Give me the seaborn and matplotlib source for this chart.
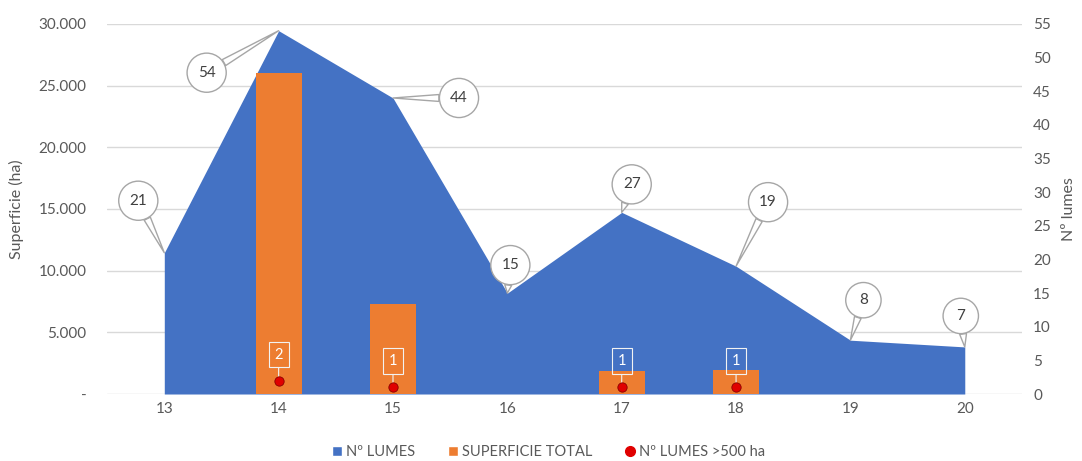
import numpy as np
import matplotlib
matplotlib.use("Agg")
import matplotlib.pyplot as plt
import seaborn as sns
from matplotlib.patches import Patch
from matplotlib.lines import Line2D
from matplotlib.ticker import FuncFormatter

# datos
anos = ["13", "14", "15", "16", "17", "18", "19", "20"]
n_lumes = [21, 54, 44, 15, 27, 19, 8, 7]
superficie = [0, 26000, 7300, 0, 1850, 1950, 0, 0]
lumes_500 = [0, 2, 1, 0, 1, 1, 0, 0]

azul = "#4472C4"
laranxa = "#ED7D31"
vermello = "#E00000"
gris = "#595959"

sns.set_style("white")
plt.rcParams["font.family"] = ["Lato", "DejaVu Sans"]

fig, ax = plt.subplots(figsize=(10.82, 4.61), dpi=100)
fig.subplots_adjust(left=0.099, right=0.9445, bottom=0.1453, top=0.948)
pos = np.arange(len(anos))

# eixo dereito: area de numero de lumes
ax2 = ax.twinx()
ax2.fill_between(pos, n_lumes, color=azul, lw=0)

# barras de superficie (escala esquerda)
ax3 = ax.twinx()
sns.barplot(x=anos, y=superficie, order=anos, color=laranxa, width=0.4,
            saturation=1, linewidth=0, ax=ax3)

# puntos de lumes > 500 ha (escala dereita)
ax4 = ax.twinx()
mask = [v > 0 for v in lumes_500]
sns.scatterplot(x=pos[mask], y=np.array(lumes_500)[mask], color=vermello,
                s=45, edgecolor="#8B0000", linewidth=0.6, ax=ax4, zorder=5)

ax.set_ylim(0, 30000)
ax3.set_ylim(0, 30000)
ax2.set_ylim(0, 55)
ax4.set_ylim(0, 55)
for a in (ax, ax2, ax3, ax4):
    a.set_xlim(-0.5, 7.5)
    for s in a.spines.values():
        s.set_visible(False)
for a in (ax3, ax4):
    a.set_yticks([])
    a.set_ylabel("")
    a.set_xlabel("")

ax.set_yticks(range(0, 30001, 5000))
ax.yaxis.set_major_formatter(FuncFormatter(
    lambda v, p: "-" if v == 0 else f"{int(v):,}".replace(",", ".")))
ax.grid(axis="y", color="#D9D9D9", lw=1)
ax.set_xticks(pos)
ax.set_xticklabels(anos)
ax.tick_params(axis="y", length=0, pad=15, labelsize=11, labelcolor=gris)
ax.tick_params(axis="x", length=0, pad=6, labelsize=11, labelcolor=gris)
ax.set_ylabel("Superficie (ha)", fontsize=11.5, color=gris, labelpad=10)

ax2.set_yticks(range(0, 56, 5))
ax2.tick_params(axis="y", length=0, pad=8, labelsize=11, labelcolor=gris)
ax2.set_ylabel("Nº lumes", fontsize=11.5, color=gris, labelpad=8)

# orde de capas: grella < area < barras < puntos
ax.set_zorder(1)
ax2.set_zorder(2)
ax3.set_zorder(3)
ax4.set_zorder(4)
for a in (ax2, ax3, ax4):
    a.patch.set_visible(False)
ax.patch.set_visible(True)
ax.patch.set_facecolor("white")

# bocadillos do numero de lumes
desprazamentos = [(-26, 52), (-72, -42), (66, 0), (3, 28),
                  (10, 28), (32, 64), (13, 40), (-4, 31)]
for i, (v, d) in enumerate(zip(n_lumes, desprazamentos)):
    ax4.annotate(str(v), xy=(i, v), xytext=d, textcoords="offset pixels",
                 ha="center", va="center", fontsize=11, color="#404040",
                 bbox=dict(boxstyle="circle,pad=0.7", fc="white",
                           ec="#A6A6A6", lw=1),
                 arrowprops=dict(arrowstyle="wedge,tail_width=0.45",
                                 fc="white", ec="#A6A6A6", lw=1,
                                 shrinkA=0, shrinkB=0),
                 annotation_clip=False)

# etiquetas dos puntos
for i, v in enumerate(lumes_500):
    if v > 0:
        ax4.annotate(str(v), xy=(i, v), xytext=(0, 26), textcoords="offset pixels",
                     ha="center", va="center", fontsize=10.5, color="white",
                     bbox=dict(boxstyle="square,pad=0.4", fc="none",
                               ec="#F2F2F2", lw=0.8),
                     arrowprops=dict(arrowstyle="-", color="#F2F2F2", lw=0.8,
                                     shrinkA=0, shrinkB=3))

handles = [
    Patch(facecolor=azul, label="Nº LUMES"),
    Patch(facecolor=laranxa, label="SUPERFICIE TOTAL"),
    Line2D([], [], marker="o", ls="", color=vermello, markersize=7,
           label="Nº LUMES >500 ha"),
]
fig.legend(handles=handles, loc="center", bbox_to_anchor=(0.507, 0.02), ncol=3,
           frameon=False, fontsize=10.5, labelcolor=gris, handlelength=0.7,
           handleheight=0.7, handletextpad=0.3, columnspacing=2.2)

fig.savefig("out.png", dpi=100)
